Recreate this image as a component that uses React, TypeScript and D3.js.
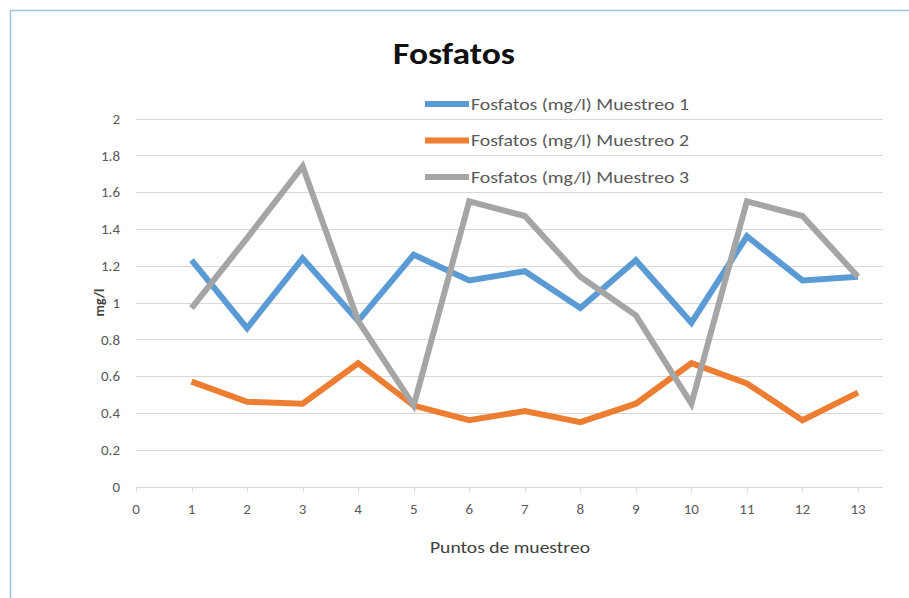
import React, { useRef, useEffect } from "react";
import * as d3 from "d3";

const puntos = [1, 2, 3, 4, 5, 6, 7, 8, 9, 10, 11, 12, 13];
const muestreo1 = [1.23, 0.86, 1.24, 0.9, 1.26, 1.12, 1.17, 0.97, 1.23, 0.89, 1.36, 1.12, 1.14];
const muestreo2 = [0.57, 0.46, 0.45, 0.67, 0.44, 0.36, 0.41, 0.35, 0.45, 0.67, 0.56, 0.36, 0.51];
const muestreo3 = [0.97, 1.35, 1.74, 0.9, 0.44, 1.55, 1.47, 1.14, 0.93, 0.45, 1.55, 1.47, 1.14];
const seriesNames = [
  "Fosfatos (mg/l) Muestreo 1",
  "Fosfatos (mg/l) Muestreo 2",
  "Fosfatos (mg/l) Muestreo 3",
];
const colors = ["#5b9bd5", "#ed7d31", "#a5a5a5"];
const yTicks = [0, 0.2, 0.4, 0.6, 0.8, 1, 1.2, 1.4, 1.6, 1.8, 2];
const xTicks = [0, 1, 2, 3, 4, 5, 6, 7, 8, 9, 10, 11, 12, 13];

const W = 909;
const H = 598;
const font = "Carlito, 'Open Sans', 'Noto Sans', sans-serif";

function App() {
  const svgRef = useRef<SVGSVGElement>(null);

  useEffect(() => {
    const svg = d3.select(svgRef.current);
    svg.selectAll("*").remove();

    const x = d3.scaleLinear().domain([0, 13]).range([136, 858]);
    const y = d3.scaleLinear().domain([0, 2]).range([486.5, 118.5]);
    const gridRight = 883;

    svg.append("rect").attr("width", W).attr("height", H).attr("fill", "#fff");
    // chart frame
    svg
      .append("path")
      .attr("d", `M10.5,${H} V10.5 H${W}`)
      .attr("fill", "none")
      .attr("stroke", "#9dc3e6")
      .attr("stroke-width", 1.5);

    // gridlines
    svg
      .append("g")
      .selectAll("line")
      .data(yTicks.slice(1))
      .join("line")
      .attr("x1", x(0))
      .attr("x2", gridRight)
      .attr("y1", (d) => Math.round(y(d)) + 0.5)
      .attr("y2", (d) => Math.round(y(d)) + 0.5)
      .attr("stroke", "#d9d9d9")
      .attr("stroke-width", 1);

    // x axis line + ticks
    const y0 = Math.round(y(0)) + 0.5;
    svg
      .append("line")
      .attr("x1", x(0))
      .attr("x2", gridRight)
      .attr("y1", y0)
      .attr("y2", y0)
      .attr("stroke", "#d9d9d9");
    svg
      .append("g")
      .selectAll("line")
      .data(xTicks)
      .join("line")
      .attr("x1", (d) => Math.round(x(d)) + 0.5)
      .attr("x2", (d) => Math.round(x(d)) + 0.5)
      .attr("y1", y0)
      .attr("y2", y0 + 5)
      .attr("stroke", "#d9d9d9");

    // tick labels
    svg
      .append("g")
      .selectAll("text")
      .data(yTicks)
      .join("text")
      .attr("x", 120)
      .attr("y", (d) => y(d))
      .attr("dy", "0.35em")
      .attr("text-anchor", "end")
      .attr("font-family", font)
      .attr("font-size", 15)
      .attr("fill", "#595959")
      .text((d) => String(d));

    svg
      .append("g")
      .selectAll("text")
      .data(xTicks)
      .join("text")
      .attr("x", (d) => x(d))
      .attr("y", 514)
      .attr("text-anchor", "middle")
      .attr("font-family", font)
      .attr("font-size", 15)
      .attr("fill", "#595959")
      .text((d) => String(d));

    // axis titles
    svg
      .append("text")
      .attr("transform", `translate(104,${y(1)}) rotate(-90)`)
      .attr("text-anchor", "middle")
      .attr("font-family", font)
      .attr("font-size", 14)
      .attr("font-weight", "bold")
      .attr("fill", "#404040")
      .text("mg/l");
    svg
      .append("text")
      .attr("x", 510)
      .attr("y", 553)
      .attr("text-anchor", "middle")
      .attr("font-family", font)
      .attr("font-size", 17)
      .attr("textLength", 160)
      .attr("lengthAdjust", "spacingAndGlyphs")
      .attr("fill", "#404040")
      .text("Puntos de muestreo");

    // title
    svg
      .append("text")
      .attr("x", 454)
      .attr("y", 64)
      .attr("text-anchor", "middle")
      .attr("font-family", font)
      .attr("font-size", 31)
      .attr("font-weight", "bold")
      .attr("textLength", 122)
      .attr("lengthAdjust", "spacingAndGlyphs")
      .attr("fill", "#111")
      .text("Fosfatos");

    // lines
    const all = [muestreo1, muestreo2, muestreo3];
    const lineGen = d3
      .line<number>()
      .x((_, i) => x(puntos[i]))
      .y((d) => y(d));
    svg
      .append("g")
      .selectAll("path")
      .data(all)
      .join("path")
      .attr("d", (d) => lineGen(d))
      .attr("fill", "none")
      .attr("stroke", (_, i) => colors[i])
      .attr("stroke-width", 6)
      .attr("stroke-linejoin", "miter")
      .attr("stroke-linecap", "butt");

    // legend
    const legend = svg
      .append("g")
      .selectAll("g")
      .data(seriesNames)
      .join("g")
      .attr("transform", (_, i) => `translate(425,${104 + i * 36.5})`);
    legend
      .append("line")
      .attr("x1", 0)
      .attr("x2", 44)
      .attr("stroke", (_, i) => colors[i])
      .attr("stroke-width", 6);
    legend
      .append("text")
      .attr("x", 46)
      .attr("dy", "0.35em")
      .attr("font-family", font)
      .attr("font-size", 17)
      .attr("textLength", 218)
      .attr("lengthAdjust", "spacingAndGlyphs")
      .attr("fill", "#595959")
      .text((d) => d);
  }, []);

  return <svg ref={svgRef} width={W} height={H} style={{ display: "block", position: "absolute", left: 0, top: 0 }} />;
}

export default App;
